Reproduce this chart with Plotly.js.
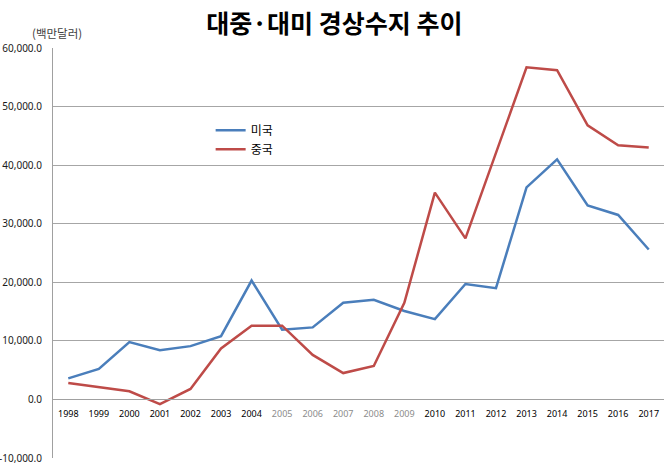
<!DOCTYPE html>
<html>
<head>
<meta charset="utf-8">
<script src="https://cdn.plot.ly/plotly-3.0.1.min.js"></script>
<style>html,body{margin:0;padding:0;background:#fff;}#chart{width:670px;height:467px;}</style>
</head>
<body>
<div id="chart"></div>
<script>
const years = ['1998','1999','2000','2001','2002','2003','2004','2005','2006','2007','2008','2009','2010','2011','2012','2013','2014','2015','2016','2017'];
const usBalance = [3600,5200,9800,8400,9100,10800,20300,11900,12300,16500,17000,15100,13700,19700,19000,36200,41000,33100,31500,25600];
const chinaBalance = [2800,2100,1400,-800,1800,8700,12600,12600,7600,4500,5700,16500,35300,27500,42000,56700,56200,46800,43400,43000];
const seriesNames = ['미국','중국'];
const yTickVals = [-10000,0,10000,20000,30000,40000,50000,60000];
const yTickText = ['-10,000.0','0.0','10,000.0','20,000.0','30,000.0','40,000.0','50,000.0','60,000.0'];
const gridVals = [0,10000,20000,30000,40000,50000,60000];
const grayYears = ['2005','2006','2007','2008','2009'];
const titleText = '대중·대미 경상수지 추이';
const unitText = '(백만달러)';

const xTickText = years.map(y => grayYears.includes(y) ? "<span style='color:#8c8c8c'>" + y + "</span>" : y);

const traces = [
  {x: years, y: usBalance, name: seriesNames[0], type: 'scatter', mode: 'lines',
   line: {color: '#4a7ebb', width: 2.5}, legendgroup: 'a'},
  {x: years, y: chinaBalance, name: seriesNames[1], type: 'scatter', mode: 'lines',
   line: {color: '#be4b48', width: 2.5}, legendgroup: 'b'}
];

const layout = {
  width: 670, height: 467,
  margin: {l: 53, r: 6, t: 48, b: 9},
  paper_bgcolor: '#fff', plot_bgcolor: '#fff',
  font: {family: '"Noto Sans CJK KR", "Noto Sans", sans-serif', color: '#000'},
  title: {text: '<b>' + titleText + '</b>', font: {size: 25, color: '#000', family: '"Noto Sans CJK KR", sans-serif'},
          xref: 'container', x: 0.499, xanchor: 'center', yref: 'container', y: 0.948, yanchor: 'middle'},
  showlegend: true,
  legend: {x: 0.258, y: 0.835, xanchor: 'left', yanchor: 'top', bgcolor: 'rgba(0,0,0,0)',
           font: {size: 12, color: '#000', family: '"Noto Sans CJK KR", sans-serif'},
           traceorder: 'normal', tracegroupgap: 4},
  xaxis: {
    type: 'category', tickvals: years, ticktext: xTickText,
    anchor: 'free', position: 1/7,
    showline: true, linecolor: '#a0a0a0', linewidth: 1,
    showgrid: false, zeroline: false,
    ticks: 'outside', ticklen: 6, tickcolor: 'rgba(0,0,0,0)',
    tickfont: {size: 9, color: '#000', family: '"Noto Sans", sans-serif'},
    tickangle: 0,
    range: [-0.5, 19.5], fixedrange: true
  },
  yaxis: {
    range: [-10000, 60000], tickvals: yTickVals, ticktext: yTickText,
    showgrid: false, zeroline: false,
    showline: true, linecolor: '#a0a0a0', linewidth: 1,
    ticks: 'outside', ticklen: 8, tickcolor: 'rgba(0,0,0,0)',
    tickfont: {size: 10, color: '#1a1a1a', family: '"Noto Sans", sans-serif'},
    minor: {tickvals: gridVals, showgrid: true, gridcolor: '#a6a6a6', gridwidth: 1, ticks: ''},
    fixedrange: true
  },
  annotations: [
    {text: unitText, xref: 'paper', yref: 'paper', x: -0.038, y: 1.037, xanchor: 'left', yanchor: 'middle',
     showarrow: false, font: {size: 11.5, color: '#404040', family: '"Noto Sans CJK KR", sans-serif'}}
  ]
};

Plotly.newPlot('chart', traces, layout, {displayModeBar: false, staticPlot: true});
</script>
</body>
</html>
